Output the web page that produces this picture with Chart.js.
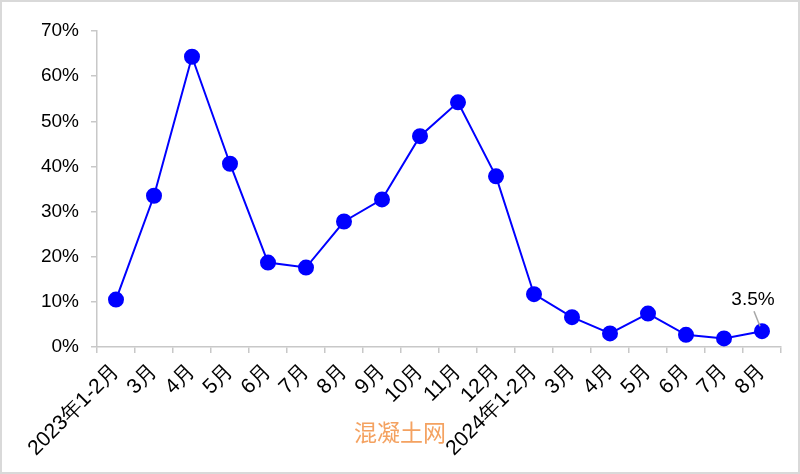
<!DOCTYPE html>
<html><head><meta charset="utf-8">
<script src="https://cdn.jsdelivr.net/npm/chart.js@4.4.1/dist/chart.umd.min.js"></script>
<style>html,body{margin:0;padding:0;background:#fff}#wrap{width:800px;height:474px;position:relative}</style>
</head><body><div id="wrap"><canvas id="c" width="800" height="474"></canvas></div>
<script>
const categories = ["2023年1-2月","3月","4月","5月","6月","7月","8月","9月","10月","11月","12月","2024年1-2月","3月","4月","5月","6月","7月","8月"];
const growth = [10.5,33.5,64.3,40.6,18.7,17.6,27.8,32.7,46.7,54.2,37.8,11.7,6.6,3.0,7.4,2.7,1.9,3.5];
const lastLabel = "3.5%";
const watermark = "混凝土网";
const FONT = "'Liberation Sans', Arial, sans-serif";

const extras = {
  id: 'extras',
  beforeDraw(chart){
    const ctx = chart.ctx;
    ctx.save();
    ctx.fillStyle = '#fff';
    ctx.fillRect(0,0,chart.width,chart.height);
    ctx.restore();
  },
  afterDraw(chart){
    const ctx = chart.ctx;
    const meta = chart.getDatasetMeta(0);
    const p = meta.data[meta.data.length-1];
    ctx.save();
    ctx.strokeStyle = '#a6a6a6';
    ctx.lineWidth = 1.5;
    ctx.beginPath();
    ctx.moveTo(p.x-8, p.y-20);
    ctx.lineTo(p.x-2, p.y-5);
    ctx.stroke();
    ctx.fillStyle = '#000';
    ctx.font = '19px ' + FONT;
    ctx.textAlign = 'center';
    ctx.textBaseline = 'alphabetic';
    ctx.fillText(lastLabel, p.x-9, p.y-26);
    ctx.fillStyle = '#f4a261';
    ctx.font = "23px 'Noto Sans CJK SC', sans-serif";
    ctx.fillText(watermark, 400, 441);
    ctx.strokeStyle = '#d9d9d9';
    ctx.lineWidth = 2;
    ctx.strokeRect(1,1,chart.width-2,chart.height-2);
    ctx.restore();
  }
};

new Chart(document.getElementById('c'), {
  type: 'line',
  data: {
    labels: categories,
    datasets: [{
      data: growth,
      borderColor: '#0000ff',
      backgroundColor: '#0000ff',
      borderWidth: 2,
      pointRadius: 7,
      pointHoverRadius: 7,
      pointBackgroundColor: '#0000ff',
      pointBorderColor: '#0000ff',
      tension: 0
    }]
  },
  options: {
    responsive: false,
    animation: false,
    devicePixelRatio: 1,
    layout: { padding: { left: 0, right: 19, top: 31, bottom: 0 } },
    plugins: { legend: { display: false }, tooltip: { enabled: false } },
    scales: {
      x: {
        offset: true,
        grid: { display: true, offset: true, drawOnChartArea: false, color: '#c8c8c8', tickLength: 6, lineWidth: 1.5 },
        border: { color: '#c8c8c8', width: 1.5 },
        ticks: { color: '#000', font: { family: FONT, size: 21 }, maxRotation: 45, minRotation: 45, autoSkip: false, padding: 6 },
        afterFit(s){ s.height = 474 - 347; }
      },
      y: {
        min: 0, max: 70,
        grid: { display: true, drawOnChartArea: false, color: '#c8c8c8', tickLength: 6, lineWidth: 1.5 },
        border: { color: '#c8c8c8', width: 1.5 },
        ticks: { stepSize: 10, color: '#000', font: { family: FONT, size: 19 }, padding: 12, callback: v => v + '%' },
        afterFit(s){ s.width = 97; }
      }
    }
  },
  plugins: [extras]
});
</script></body></html>
